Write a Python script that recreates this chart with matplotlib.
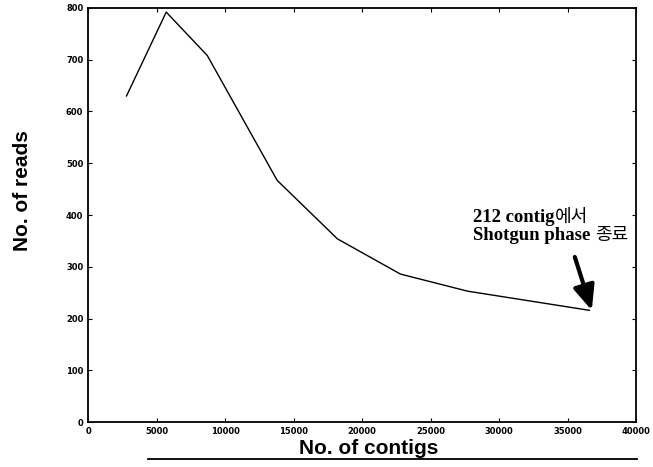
import numpy as np
import matplotlib.pyplot as plt
from matplotlib.lines import Line2D

# datos
contigs = [2800, 5700, 8700, 13800, 18200, 22800, 27700, 36600]
reads = [630, 792, 708, 467, 354, 286, 253, 216]
xticks = [0, 5000, 10000, 15000, 20000, 25000, 30000, 35000, 40000]
yticks = [0, 100, 200, 300, 400, 500, 600, 700, 800]

fig = plt.figure(figsize=(6.53, 4.67), dpi=100)
ax = fig.add_axes([0.135, 0.096, 0.839, 0.887])

ax.plot(contigs, reads, color='black', lw=1.0)
ax.set_xlim(0, 40000)
ax.set_ylim(0, 800)
ax.set_xticks(xticks)
ax.set_yticks(yticks)
ax.tick_params(direction='in', top=True, right=True, length=3, labelsize=6)
for lab in ax.get_xticklabels() + ax.get_yticklabels():
    lab.set_fontweight('bold')
for s in ax.spines.values():
    s.set_linewidth(1.3)

fig.text(0.565, 0.040, 'No. of contigs', ha='center', va='center',
         fontsize=15, fontweight='bold', family='Liberation Sans')
fig.text(0.035, 0.593, 'No. of reads', ha='center', va='center', rotation=90,
         fontsize=15, fontweight='bold', family='Liberation Sans')

# anotacion: texto latino en serif negrita, coreano mas fino
lineas = [('212 contig', '에서', 386), ('Shotgun phase ', '종료', 352)]
fig.canvas.draw()
for lat, kor, yb in lineas:
    t = ax.text(28100, yb, lat, fontsize=13.5, fontweight='bold',
                family='Liberation Serif', ha='left', va='baseline')
    bb = t.get_window_extent(renderer=fig.canvas.get_renderer())
    xk = ax.transData.inverted().transform((bb.x1, 0))[0]
    ax.text(xk, yb, kor, fontsize=13, fontweight='normal',
            family='Noto Sans CJK KR', ha='left', va='baseline')

ax.annotate('', xy=(36770, 216), xytext=(35530, 319),
            arrowprops=dict(arrowstyle='-|>,head_width=0.65,head_length=1.5',
                            color='black', lw=3, shrinkA=0, shrinkB=0))

# linea subrayada al pie
fig.add_artist(Line2D([0.227, 0.975], [0.017, 0.017], color='black', lw=1.3,
                      transform=fig.transFigure))

fig.savefig('out.png', dpi=100)
